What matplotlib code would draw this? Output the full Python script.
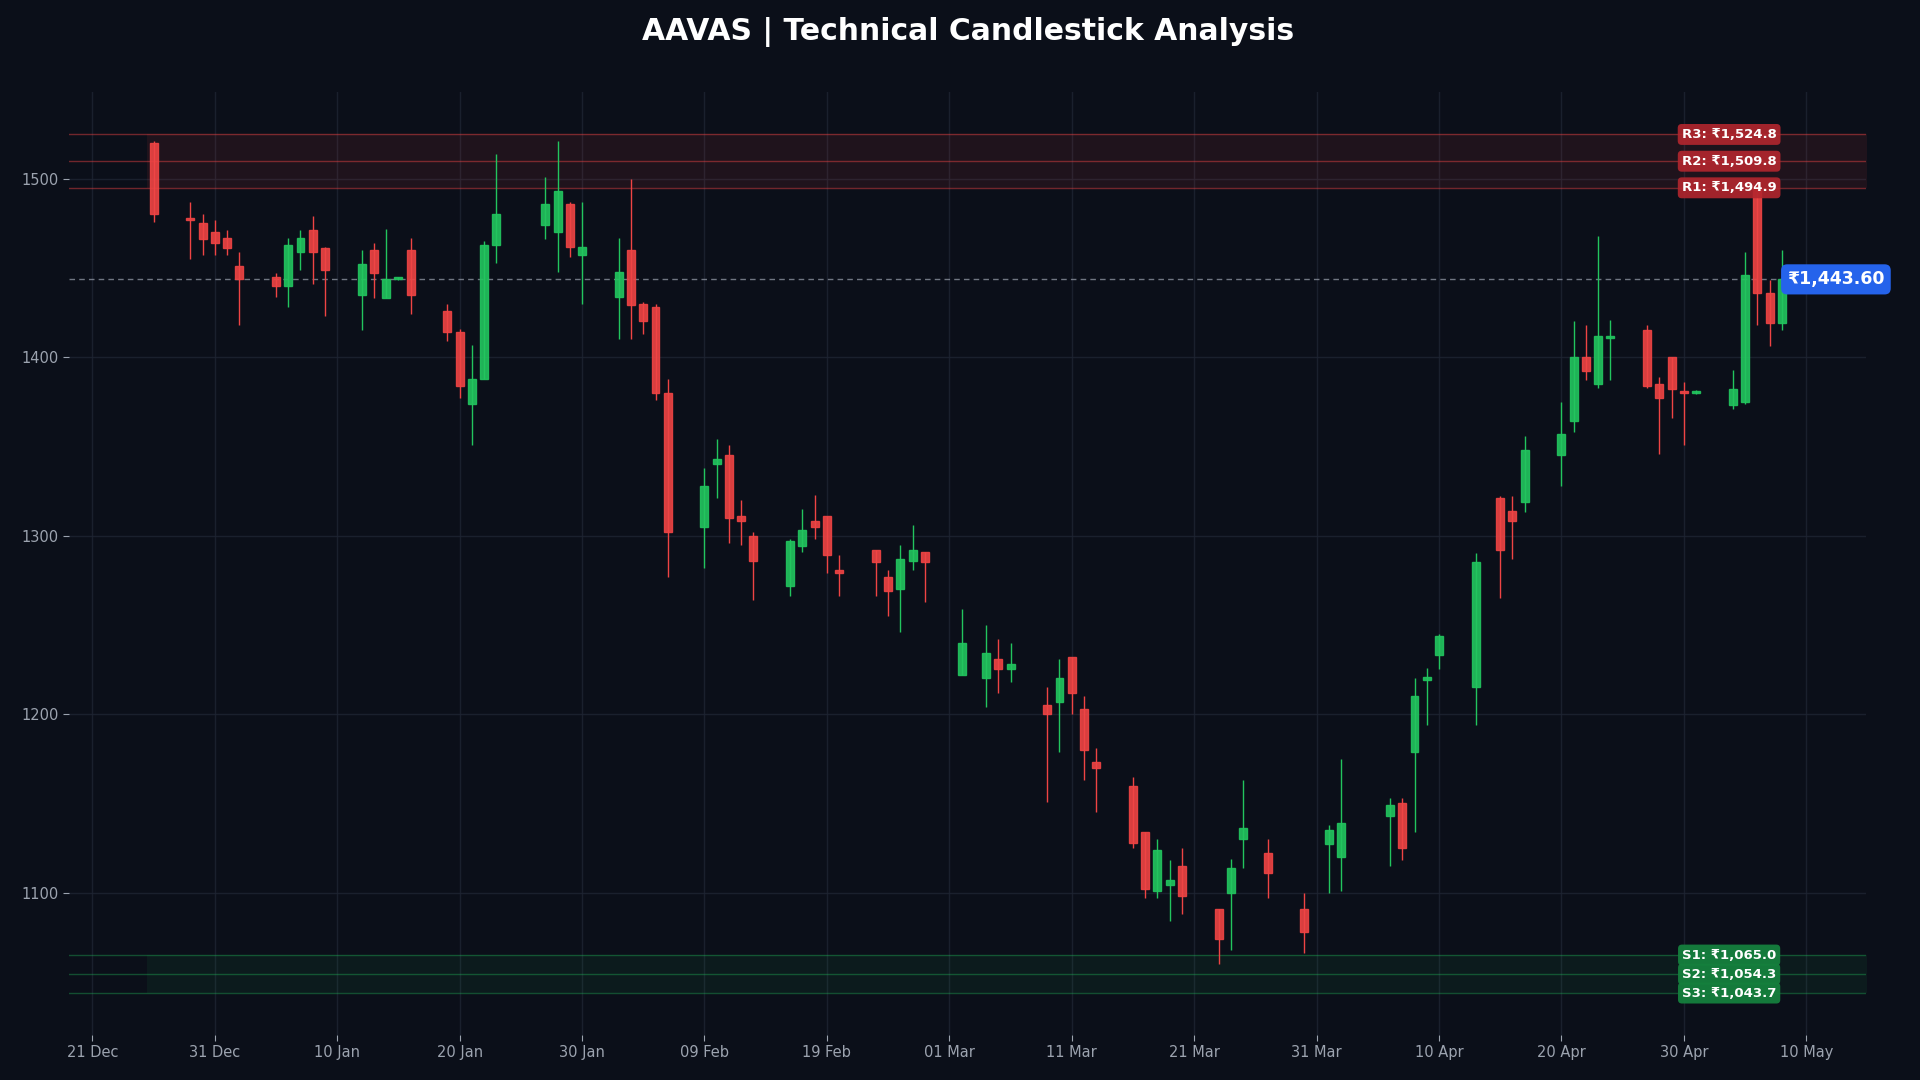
import matplotlib
matplotlib.use("Agg")
import matplotlib.pyplot as plt
import matplotlib.dates as mdates
import numpy as np
import datetime as dt

# day offsets from 21 Dec 2024
days = [5, 8, 9, 10, 11, 12, 15, 16, 17, 18, 19, 22, 23, 24, 25, 26, 29, 30, 31, 32, 33,
        37, 38, 39, 40, 43, 44, 45, 46, 47, 50, 51, 52, 53, 54, 57, 58, 59, 60, 61,
        64, 65, 66, 67, 68, 71, 73, 74, 75, 78, 79, 80, 81, 82, 85, 86, 87, 88, 89,
        92, 93, 94, 96, 99, 101, 102, 106, 107, 108, 109, 110, 113, 115, 116, 117,
        120, 121, 122, 123, 124, 127, 128, 129, 130, 131, 134, 135, 136, 137, 138]
opens = [1520, 1478, 1475, 1470, 1467, 1451, 1445, 1440, 1459, 1471, 1461, 1435, 1460, 1433, 1444, 1460,
         1426, 1414, 1374, 1388, 1463, 1474, 1470, 1486, 1457, 1434, 1460, 1430, 1428, 1380,
         1305, 1340, 1345, 1311, 1300, 1272, 1294, 1308, 1311, 1281, 1292, 1277, 1270, 1286, 1291,
         1222, 1220, 1231, 1225, 1205, 1207, 1232, 1203, 1173, 1160, 1134, 1101, 1104, 1115,
         1091, 1100, 1130, 1122, 1091, 1127, 1120, 1143, 1150, 1179, 1219, 1233, 1215, 1321, 1314, 1319,
         1345, 1364, 1400, 1385, 1411, 1415, 1385, 1400, 1381, 1380, 1373, 1375, 1495, 1436, 1419]
closes = [1480, 1477, 1466, 1464, 1461, 1444, 1440, 1463, 1467, 1459, 1449, 1452, 1447, 1444, 1444.5, 1435,
          1414, 1384, 1388, 1463, 1480, 1486, 1493, 1462, 1462, 1448, 1429, 1420, 1380, 1302,
          1328, 1343, 1310, 1308, 1286, 1297, 1303, 1305, 1289, 1279, 1285, 1269, 1287, 1292, 1285,
          1240, 1234, 1225, 1228, 1200, 1220, 1212, 1180, 1170, 1128, 1102, 1124, 1107, 1098,
          1074, 1114, 1136, 1111, 1078, 1135, 1139, 1149, 1125, 1210, 1221, 1244, 1285, 1292, 1308, 1348,
          1357, 1400, 1392, 1412, 1412, 1384, 1377, 1382, 1380, 1381, 1382, 1446, 1436, 1419, 1443.6]
highs = [1521, 1487, 1480, 1477, 1471, 1459, 1447, 1467, 1471, 1479, 1462, 1460, 1464, 1472, 1445, 1467,
         1430, 1416, 1407, 1465, 1514, 1501, 1521, 1487, 1487, 1467, 1500, 1431, 1430, 1388,
         1338, 1354, 1351, 1320, 1302, 1298, 1315, 1323, 1311, 1289, 1292, 1281, 1295, 1306, 1291,
         1259, 1250, 1242, 1240, 1215, 1231, 1232, 1210, 1181, 1165, 1134, 1130, 1118, 1125,
         1091, 1119, 1163, 1130, 1100, 1138, 1175, 1153, 1153, 1220, 1226, 1245, 1290, 1322, 1322, 1356,
         1375, 1420, 1418, 1468, 1421, 1418, 1389, 1400, 1386, 1381.5, 1393, 1459, 1497, 1443, 1460]
lows = [1476, 1455, 1457, 1457, 1457, 1418, 1434, 1428, 1449, 1441, 1423, 1415, 1433, 1433, 1443, 1424,
        1409, 1377, 1351, 1388, 1453, 1466, 1448, 1456, 1430, 1410, 1410, 1413, 1376, 1277,
        1282, 1321, 1296, 1295, 1264, 1266, 1291, 1298, 1279, 1266, 1266, 1255, 1246, 1281, 1263,
        1222, 1204, 1212, 1218, 1151, 1179, 1200, 1163, 1145, 1125, 1097, 1097, 1084, 1088,
        1060, 1068, 1114, 1097, 1066, 1100, 1101, 1115, 1118, 1134, 1194, 1225, 1194, 1265, 1287, 1313,
        1328, 1358, 1387, 1383, 1387, 1383, 1346, 1366, 1351, 1379.5, 1371, 1374, 1418, 1406, 1415]

resist = [("R3", 1524.8), ("R2", 1509.8), ("R1", 1494.9)]
support = [("S1", 1065.0), ("S2", 1054.3), ("S3", 1043.7)]
last_price = 1443.60

bg = "#0b0f19"
up_c = "#22c55e"
dn_c = "#ef4444"

start = dt.datetime(2024, 12, 21)
def d2n(off):
    return mdates.date2num(start + dt.timedelta(days=off))

x = [d2n(d) for d in days]

fig = plt.figure(figsize=(19.2, 10.8), dpi=100, facecolor=bg)
ax = fig.add_axes([0.036, 0.042, 0.936, 0.873])
ax.set_facecolor(bg)

for xi, o, c, h, l in zip(x, opens, closes, highs, lows):
    col = up_c if c >= o else dn_c
    ax.vlines(xi, l, h, color=col, linewidth=1, zorder=2)
    body = max(abs(c - o), 0.8)
    ax.bar(xi, body, bottom=min(o, c), width=0.65, color=col, alpha=0.9,
           edgecolor=col, linewidth=1, zorder=3)

x0 = x[0] - 0.5
x_end = d2n(150)
ax.fill_between([x0, x_end], resist[2][1], resist[0][1], color="#ef4444", alpha=0.09, zorder=1, linewidth=0)
ax.fill_between([x0, x_end], support[2][1], support[0][1], color="#22c55e", alpha=0.07, zorder=1, linewidth=0)

lab_x = d2n(133.7)
for name, v in resist:
    ax.axhline(v, color="#ef4444", alpha=0.45, linewidth=1, zorder=1)
    ax.text(lab_x, v, f"{name}: ₹{v:,.1f}", color="white", fontsize=9.5, fontweight="bold",
            ha="center", va="center", zorder=6,
            bbox=dict(boxstyle="round,pad=0.3", fc="#b3262e", ec="none", alpha=0.9))
for name, v in support:
    ax.axhline(v, color="#22c55e", alpha=0.35, linewidth=1, zorder=1)
    ax.text(lab_x, v, f"{name}: ₹{v:,.1f}", color="white", fontsize=9.5, fontweight="bold",
            ha="center", va="center", zorder=6,
            bbox=dict(boxstyle="round,pad=0.3", fc="#15803d", ec="none", alpha=0.95))

ax.axhline(last_price, color="#9ca3af", linestyle=(0, (4, 3)), linewidth=1, alpha=0.7, zorder=1)
ax.text(0.956, last_price, f"₹{last_price:,.2f}", transform=ax.get_yaxis_transform(),
        color="white", fontsize=12.5, fontweight="bold", ha="left", va="center", zorder=7,
        bbox=dict(boxstyle="round,pad=0.35", fc="#2563eb", ec="none"), clip_on=False)

ax.set_xlim(d2n(-1.9), d2n(144.9))
ax.set_ylim(1020.4, 1548.7)
ax.set_xticks([d2n(10 * i) for i in range(15)])
ax.xaxis.set_major_formatter(mdates.DateFormatter("%d %b"))
ax.set_yticks([1100, 1200, 1300, 1400, 1500])
ax.grid(True, color="#1f2533", linewidth=1, alpha=0.8, zorder=0)
ax.set_axisbelow(True)
ax.tick_params(colors="#9ca3af", labelsize=10.5, length=4)
for s in ax.spines.values():
    s.set_visible(False)

fig.text(0.504, 0.97, "AAVAS | Technical Candlestick Analysis", color="white",
         fontsize=21.5, fontweight="bold", ha="center", va="center")

fig.savefig("out.png", dpi=100, facecolor=bg)
